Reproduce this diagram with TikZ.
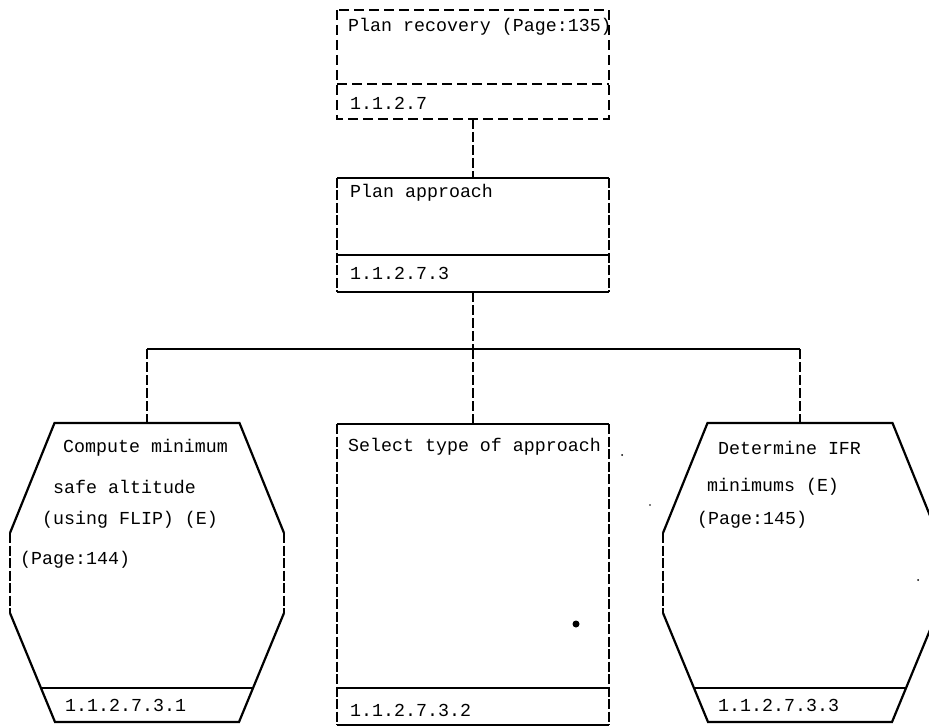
\documentclass[tikz,border=0pt]{standalone}
\usepackage{fontspec}
\setmainfont{Liberation Mono}
\usetikzlibrary{positioning}

\tikzset{
  plate/.style={draw=none, inner sep=0pt, outer sep=0pt, minimum width=272pt},
  rim/.style={line width=2.2pt},
  side/.style={line width=1.1pt, dash pattern=on 10pt off 2.5pt},
  ghost/.style={line width=2pt, dash pattern=on 10pt off 5pt},
  tie/.style={line width=1.1pt, dash pattern=on 10pt off 3pt},
  bus/.style={line width=2.4pt},
  lbl/.style={anchor=west, inner sep=0pt, font=\fontsize{18.3}{20}\selectfont},
}

\begin{document}
\begin{tikzpicture}[x=1pt, y=-1pt]
    \useasboundingbox (0,0) rectangle (929,727);
    \clip (0,0) rectangle (929,727);

    % Plan recovery (dashed)
    \node[plate, minimum height=74pt, anchor=north west] (rec) at (337,10) {};
    \node[plate, minimum height=35pt, below=0pt of rec] (recid) {};
    \draw[ghost] (rec.north west) rectangle (recid.south east);
    \draw[ghost] (rec.south west) -- (rec.south east);

    % Plan approach
    \node[plate, minimum height=77pt, anchor=north west] (plan) at (337,178) {};
    \node[plate, minimum height=37pt, below=0pt of plan] (planid) {};
    \draw[side] (plan.north west) -- (planid.south west);
    \draw[side] (plan.north east) -- (planid.south east);
    \draw[rim] (plan.north west) -- (plan.north east);
    \draw[rim] (plan.south west) -- (plan.south east);
    \draw[rim] (planid.south west) -- (planid.south east);

    % Select type of approach
    \node[plate, minimum height=264pt, anchor=north west] (sel) at (337,424) {};
    \node[plate, minimum height=37pt, below=0pt of sel] (selid) {};
    \draw[side] (sel.north west) -- (selid.south west);
    \draw[side] (sel.north east) -- (selid.south east);
    \draw[rim] (sel.north west) -- (sel.north east);
    \draw[rim] (sel.south west) -- (sel.south east);
    \draw[rim] (selid.south west) -- (selid.south east);

    % the two hexagons
    \foreach \cx/\nm in {147/comp, 800/ifr}{
      \coordinate (\nm) at (\cx,423);
      \begin{scope}[shift={(\cx,0)}]
        \draw[rim] (-137,533) -- (-92.5,423) -- (92.5,423) -- (137,533);
        \draw[side] (137,533) -- (137,613);
        \draw[side] (-137,533) -- (-137,613);
        \draw[rim] (137,613) -- (92,722) -- (-92,722) -- (-137,613);
        \draw[rim] (-106,688) -- (106,688);
      \end{scope}
    }

    % connectors
    \coordinate (fork) at (planid.south |- 0,349);
    \draw[tie] (recid.south) -- (plan.north);
    \draw[tie] (planid.south) -- (fork);
    \draw[bus] (comp |- fork) -- (ifr |- fork);
    \draw[tie] (comp |- fork) -- (comp);
    \draw[tie] (fork) -- (sel.north);
    \draw[tie] (ifr |- fork) -- (ifr);

    % labels
    \node[lbl] (rect) at (348,27) {Plan recovery (Page:135)};
    \node[lbl] (recno) at (350,103) {1.1.2.7};
    \node[lbl] (plant) at (350,193) {Plan approach};
    \node[lbl] (planno) at (350,273) {1.1.2.7.3};

    \node[lbl] (compa) at (63,448) {Compute minimum};
    \node[lbl] (compb) at (53,487) {safe altitude};
    \node[lbl] (compc) at (42,520) {(using FLIP) (E)};
    \node[lbl] (compd) at (20,560) {(Page:144)};
    \node[lbl] (compno) at (65,705) {1.1.2.7.3.1};

    \node[lbl] (selt) at (348,447) {Select type of approach};
    \node[lbl] (selno) at (350,710) {1.1.2.7.3.2};

    \node[lbl] (ifra) at (718,448) {Determine IFR};
    \node[lbl] (ifrb) at (707,487) {minimums (E)};
    \node[lbl] (ifrc) at (697,520) {(Page:145)};
    \node[lbl] (ifrno) at (718,705) {1.1.2.7.3.3};

    % stray marks
    \fill (576,624) circle (3.5pt);
    \fill (622,455) circle (1pt);
    \fill (650,505) circle (0.8pt);
    \fill (918,580) circle (1pt);
\end{tikzpicture}
\end{document}
